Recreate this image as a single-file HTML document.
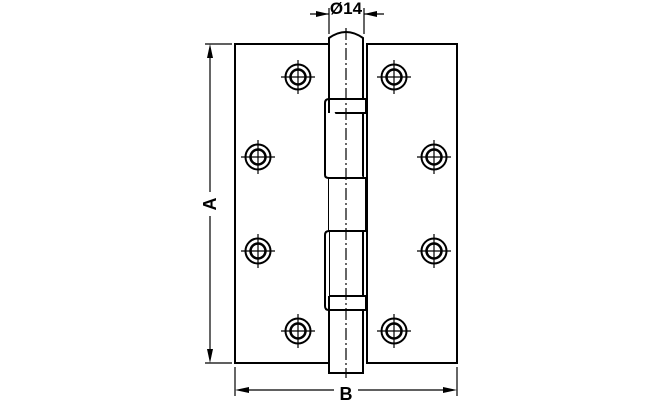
<!DOCTYPE html>
<html><head><style>html,body{margin:0;padding:0;background:#fff}</style></head><body>
<svg width="660" height="400" viewBox="0 0 660 400" xmlns="http://www.w3.org/2000/svg" font-family="Liberation Sans, sans-serif">
<defs>
<g id="h" stroke="#000" fill="none">
<circle r="12.5" stroke-width="2"/><circle r="7.5" stroke-width="2.5"/>
<line x1="-17" y1="0" x2="17" y2="0" stroke-width="1.2"/><line x1="0" y1="-17" x2="0" y2="17" stroke-width="1.2"/>
</g>
</defs>
<g stroke="#000" stroke-width="2" fill="none">
<rect x="235" y="44" width="94" height="319"/>
<rect x="367" y="44" width="90" height="319"/>
</g>
<g stroke="#000" stroke-width="2" fill="#fff">
<path d="M329,373 L329,38 Q346,26 363,38 L363,373 Z"/>
<path d="M329,99 L366,99 L366,113 L329,113" />
<path d="M329,99 Q325,99 325,103 L325,175 Q325,178 329,178 L363,178"/>
<path d="M329,178 L366,178 L366,231 L329,231"/>
<path d="M329,231 Q325,231 325,235 L325,306 Q325,310 329,310"/>
<path d="M329,296 L366,296 L366,310 L329,310"/>
<line x1="329" y1="296" x2="329" y2="310"/>
<line x1="329" y1="99" x2="329" y2="113"/>
</g>
<line x1="346" y1="28" x2="346" y2="378" stroke="#000" stroke-width="1.2" stroke-dasharray="12,3,2,3"/>
<use href="#h" x="298" y="77"/><use href="#h" x="394" y="77"/>
<use href="#h" x="258" y="157"/><use href="#h" x="434" y="157"/>
<use href="#h" x="258" y="251"/><use href="#h" x="434" y="251"/>
<use href="#h" x="298" y="331"/><use href="#h" x="394" y="331"/>
<g stroke="#000" stroke-width="1.2">
<line x1="205" y1="44" x2="232" y2="44"/><line x1="205" y1="363" x2="232" y2="363"/>
<line x1="210" y1="48" x2="210" y2="192"/><line x1="210" y1="216" x2="210" y2="359"/>
<line x1="235" y1="367" x2="235" y2="396"/><line x1="457" y1="367" x2="457" y2="396"/>
<line x1="239" y1="390" x2="334" y2="390"/><line x1="358" y1="390" x2="453" y2="390"/>
<line x1="329" y1="8" x2="329" y2="34"/><line x1="364" y1="8" x2="364" y2="34"/>
<line x1="310" y1="14" x2="329" y2="14"/><line x1="364" y1="14" x2="384" y2="14"/>
</g>
<g fill="#000">
<path d="M210,44 l-3,14 h6z"/><path d="M210,363 l-3,-14 h6z"/>
<path d="M235,390 l14,-3 v6z"/><path d="M457,390 l-14,-3 v6z"/>
<path d="M329,14 l-13,-3 v6z"/><path d="M364,14 l13,-3 v6z"/>
</g>
<text x="346" y="14" font-size="17" font-weight="bold" text-anchor="middle">Ø14</text>
<text x="346" y="400" font-size="18" font-weight="bold" text-anchor="middle">B</text>
<text transform="translate(216,204) rotate(-90)" font-size="18" font-weight="bold" text-anchor="middle">A</text>
</svg>
</body></html>
